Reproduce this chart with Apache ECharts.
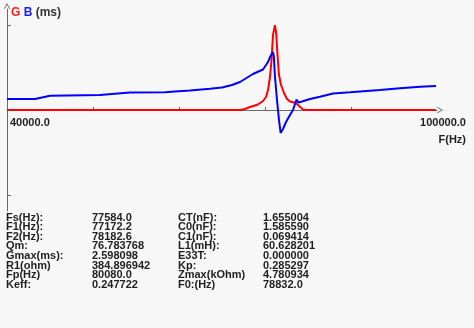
<!DOCTYPE html>
<html>
<head>
<meta charset="utf-8">
<script src="https://cdn.jsdelivr.net/npm/echarts@6/dist/echarts.min.js"></script>
<style>
html,body{margin:0;padding:0;background:#f7f7f7;}
#chart{width:474px;height:328px;}
</style>
</head>
<body>
<div id="chart"></div>
<script>
// Conductance G (ms) vs frequency
var gFreq = [40000, 72512, 73209, 73907, 75023, 75721, 76140, 76419, 76698, 76907, 77116, 77380, 77560, 77744, 77953, 78233, 78651, 79070, 79488, 80326, 80744, 81302, 81860, 99860];
var gValues = [0, 0, 0.031, 0.092, 0.168, 0.275, 0.398, 0.612, 1.009, 1.529, 2.294, 2.598, 2.355, 1.682, 1.070, 0.765, 0.520, 0.336, 0.260, 0.214, 0.122, 0.015, 0, 0];
// Susceptance B (ms) vs frequency
var bFreq = [40000, 43907, 46000, 52977, 55488, 57163, 62047, 63442, 65535, 68326, 70000, 71395, 72512, 74326, 75721, 76000, 76419, 76698, 77100, 77230, 77395, 77674, 77953, 78180, 78512, 78930, 79488, 79907, 80186, 80395, 80674, 81163, 82279, 83674, 85488, 87860, 92047, 94837, 97628, 99860];
var bValues = [0.336, 0.336, 0.437, 0.459, 0.505, 0.535, 0.541, 0.566, 0.596, 0.651, 0.688, 0.765, 0.856, 1.101, 1.239, 1.269, 1.468, 1.621, 1.774, 1.651, 1.009, 0.306, -0.306, -0.703, -0.581, -0.367, -0.153, 0, 0.183, 0.321, 0.229, 0.260, 0.336, 0.407, 0.505, 0.541, 0.612, 0.664, 0.713, 0.734];

var xTickValues = [52000, 64000, 76000, 88000];
var xLabelValues = [40000, 100000];
var yTickValues = [-2.6, 2.6];

var paramLabelsLeft = ['Fs(Hz):', 'F1(Hz):', 'F2(Hz):', 'Qm:', 'Gmax(ms):', 'R1(ohm)', 'Fp(Hz)', 'Keff:'];
var paramValuesLeft = ['77584.0', '77172.2', '78182.6', '76.783768', '2.598098', '384.896942', '80080.0', '0.247722'];
var paramLabelsRight = ['CT(nF):', 'C0(nF):', 'C1(nF):', 'L1(mH):', 'E33T:', 'Kp:', 'Zmax(kOhm)', 'F0:(Hz)'];
var paramValuesRight = ['1.655004', '1.585590', '0.069414', '60.628201', '0.000000', '0.285297', '4.780934', '78832.0'];

function pairs(xs, ys) { return xs.map(function (x, i) { return [x, ys[i]]; }); }

var FONT = 'Liberation Sans';
var TXT = '#1e1e1e';
var AXIS = '#6a6a6a';
var chevron = 'path://M0,9 L5,0 L10,9 L8.8,9.6 L5,2.6 L1.2,9.6 Z';

var graphics = [];
var colX = [6, 92, 178, 263];
var cols = [paramLabelsLeft, paramValuesLeft, paramLabelsRight, paramValuesRight];
cols.forEach(function (col, c) {
  col.forEach(function (t, r) {
    graphics.push({
      type: 'text', left: colX[c], top: 212 + r * 9.6,
      style: { text: t, fill: TXT, font: 'bold 11px ' + FONT }
    });
  });
});

var chart = echarts.init(document.getElementById('chart'));
chart.setOption({
  backgroundColor: '#f7f7f7',
  animation: false,
  grid: { left: 7, right: 37, top: 9, bottom: 117, containLabel: false },
  xAxis: {
    type: 'value', min: 40000, max: 100000, position: 'bottom', offset: -101,
    splitLine: { show: false },
    axisLine: { onZero: false, lineStyle: { color: AXIS, width: 1 }, symbol: ['none', chevron], symbolSize: [8, 6], symbolOffset: [0, 3] },
    axisTick: { show: true, inside: true, length: 3, lineStyle: { color: AXIS }, customValues: xTickValues },
    axisLabel: {
      show: true, margin: 7, customValues: xLabelValues,
      alignMinLabel: 'left', alignMaxLabel: 'center',
      formatter: function (v) { return v === 40000 ? '{l|' + v.toFixed(1) + '}' : '{r|' + v.toFixed(1) + '}'; },
      rich: {
        l: { fontFamily: FONT, fontWeight: 'bold', fontSize: 11, color: TXT, padding: [0, 0, 0, 3] },
        r: { fontFamily: FONT, fontWeight: 'bold', fontSize: 11, color: TXT, padding: [0, 0, 0, 12] }
      }
    },
    name: 'F(Hz)', nameLocation: 'end', nameGap: 29,
    nameTextStyle: { fontFamily: FONT, fontWeight: 'bold', fontSize: 11, color: TXT, align: 'right', verticalAlign: 'top', padding: [24, 0, 0, 0] }
  },
  yAxis: {
    type: 'value', min: -3.09, max: 3.09,
    splitLine: { show: false },
    axisLine: { lineStyle: { color: AXIS, width: 1 }, symbol: ['none', chevron], symbolSize: [8, 6], symbolOffset: [0, 3] },
    axisTick: { show: true, inside: true, length: 4, lineStyle: { color: AXIS }, customValues: yTickValues },
    axisLabel: { show: false },
    name: '{g|G} {b|B} {m|(ms)}', nameLocation: 'end', nameGap: -4,
    nameTextStyle: {
      align: 'left', verticalAlign: 'middle', padding: [0, 0, 0, 4],
      rich: {
        g: { color: '#ff1a1a', fontFamily: FONT, fontWeight: 'bold', fontSize: 12 },
        b: { color: '#1a1aff', fontFamily: FONT, fontWeight: 'bold', fontSize: 12 },
        m: { color: '#333', fontFamily: FONT, fontWeight: 'bold', fontSize: 12 }
      }
    }
  },
  series: [
    { name: 'G', type: 'line', data: pairs(gFreq, gValues), showSymbol: false, symbol: 'none', lineStyle: { color: '#ff0000', width: 2 }, z: 3 },
    { name: 'B', type: 'line', data: pairs(bFreq, bValues), showSymbol: false, symbol: 'none', lineStyle: { color: '#0000ff', width: 2 }, z: 4 }
  ],
  graphic: graphics
});
</script>
</body>
</html>
